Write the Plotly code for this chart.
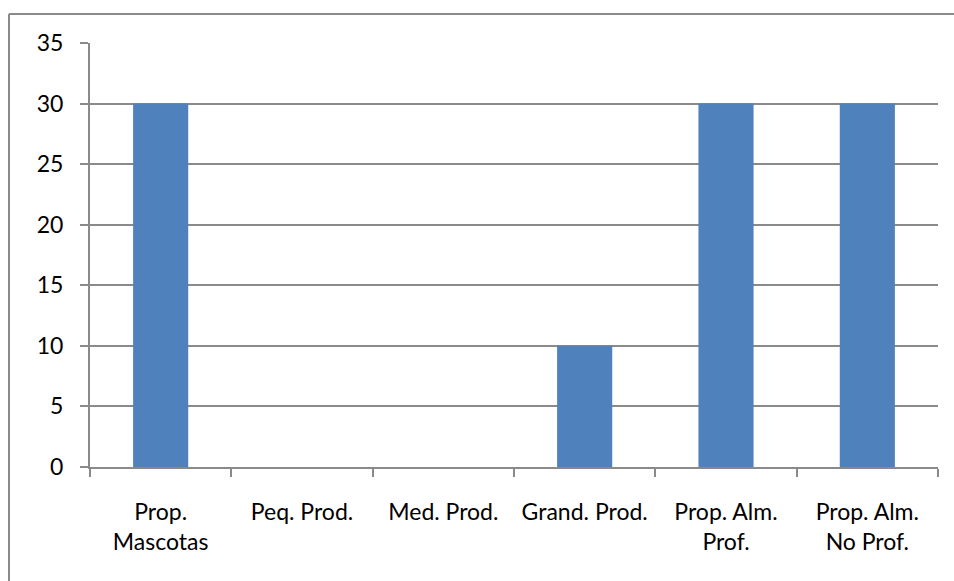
import plotly.graph_objects as go

categories = ["Prop.<br>Mascotas", "Peq. Prod.", "Med. Prod.", "Grand. Prod.",
              "Prop. Alm.<br>Prof.", "Prop. Alm.<br>No Prof."]
values = [30, 0, 0, 10, 30, 30]
y_ticks = [0, 5, 10, 15, 20, 25, 30, 35]

W, H = 954, 581
L, T = 90, 43
R = W - 938
B = H - 467
pw, ph = W - L - R, H - T - B

fig = go.Figure(go.Bar(x=categories, y=values, marker=dict(color="#4F81BD", line=dict(width=0)),
                       width=0.39))

fx0 = (9 - L) / pw
fy1 = (467 - 14) / ph
frame = dict(color="#8a8a8a", width=2)

font = dict(family="Lato, Open Sans, sans-serif", size=23, color="#000000")
fig.update_layout(
    width=W, height=H, margin=dict(l=L, r=R, t=T, b=B),
    paper_bgcolor="white", plot_bgcolor="white", showlegend=False,
    font=font,
    xaxis=dict(type="category", showgrid=False, showline=True, linecolor="#8a8a8a", linewidth=2,
               ticks="outside", tickson="boundaries", ticklen=8, tickcolor="#8a8a8a", tickwidth=2,
               tickfont=font, ticklabelstandoff=23),
    yaxis=dict(range=[0, 35], tickvals=y_ticks, showgrid=True, gridcolor="#8a8a8a", gridwidth=2,
               showline=True, linecolor="#8a8a8a", linewidth=2, ticks="outside", ticklen=8,
               tickcolor="#8a8a8a", tickwidth=2, tickfont=font, ticklabelstandoff=12, zeroline=False),
    shapes=[
        dict(type="line", xref="paper", yref="paper", x0=fx0, x1=1.2, y0=fy1, y1=fy1, line=frame),
        dict(type="line", xref="paper", yref="paper", x0=fx0, x1=fx0, y0=-0.5, y1=fy1, line=frame),
    ],
)
fig.write_html("out.html", config={"displayModeBar": False},
               post_script="document.body.style.margin='0';document.body.style.overflow='hidden';")
